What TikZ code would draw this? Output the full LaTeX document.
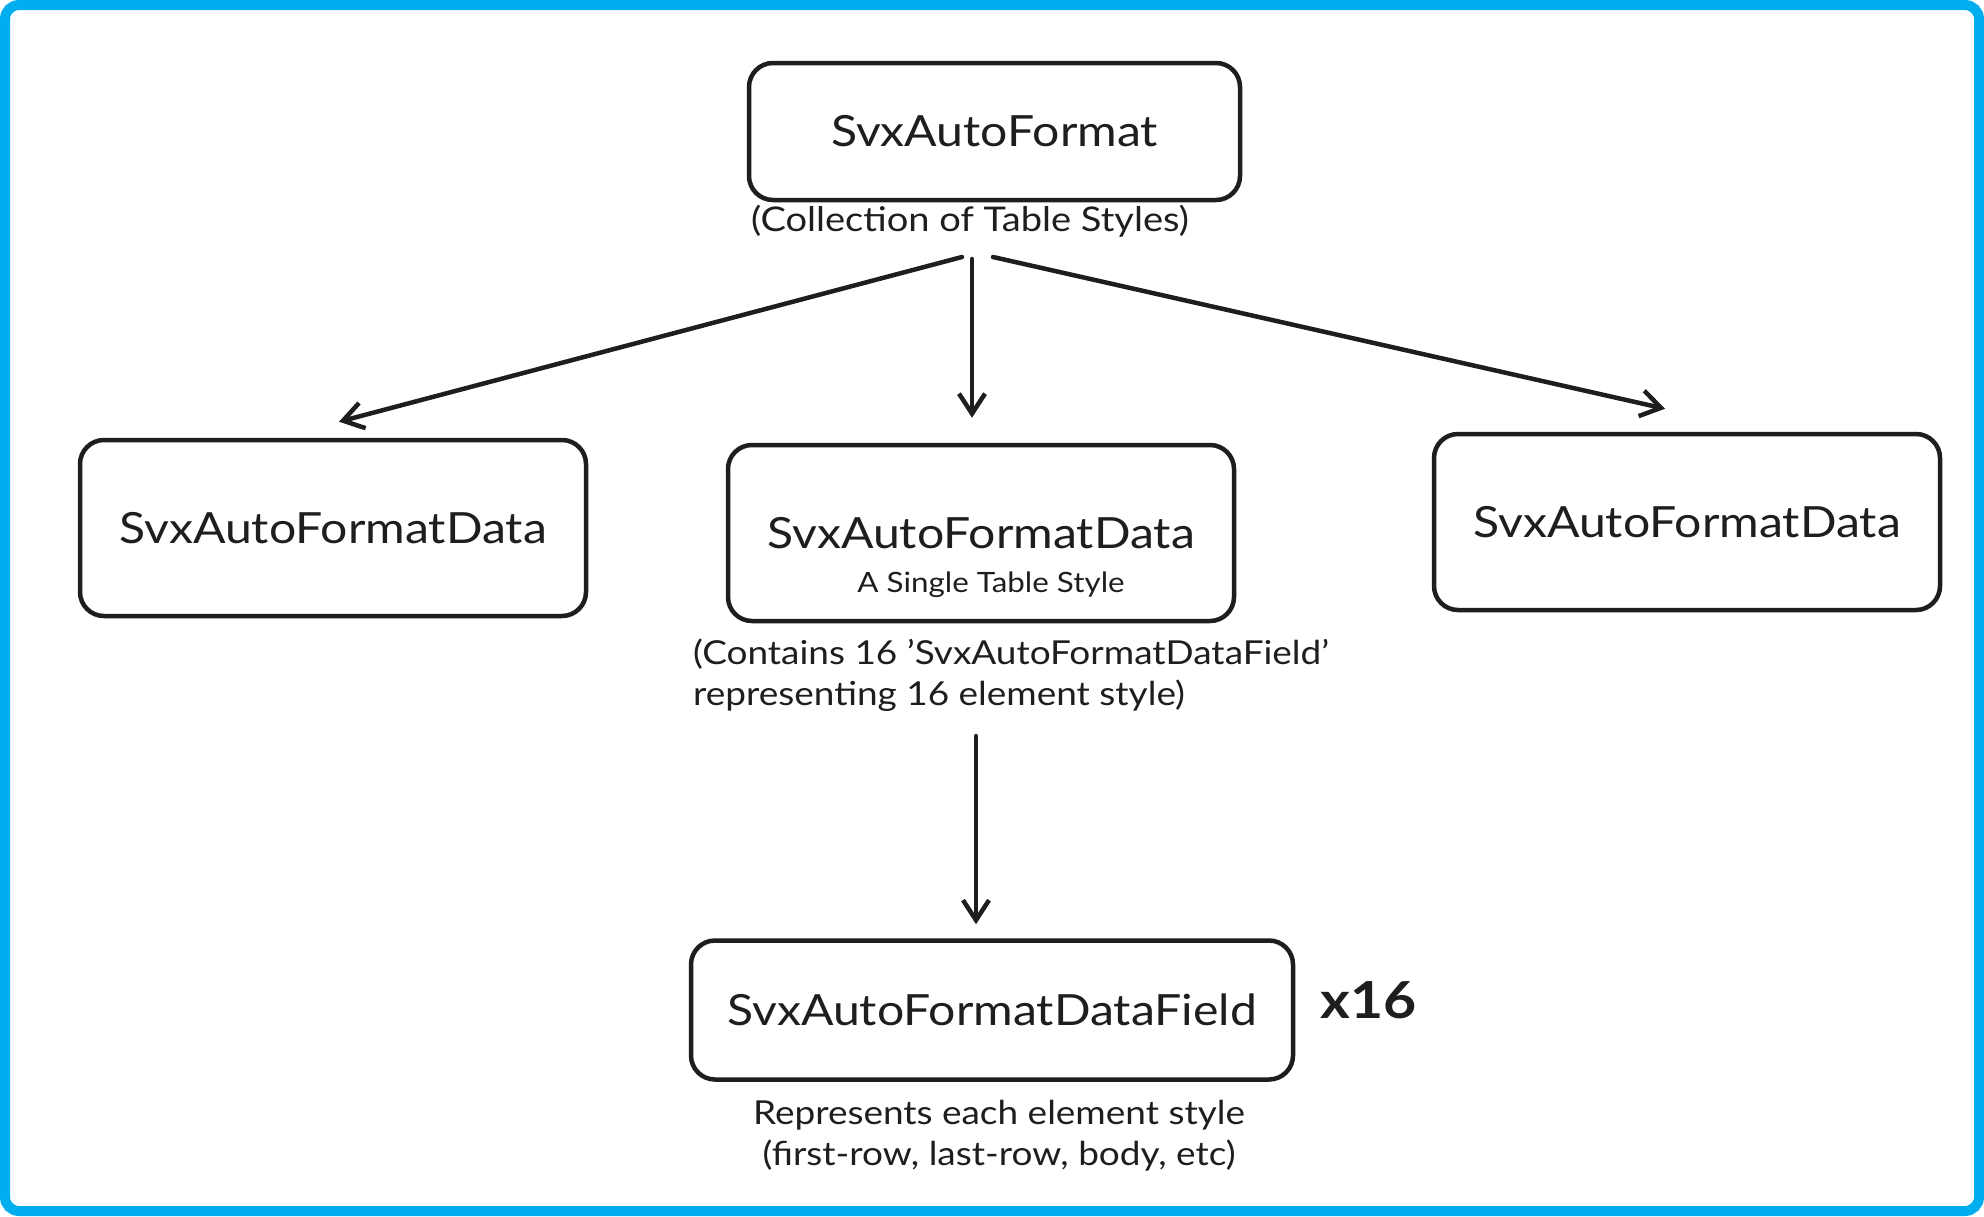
\documentclass[tikz,border=0pt]{standalone}
\usepackage{fontspec}
\setmainfont{Lato}[FakeStretch=1.12]
\usetikzlibrary{arrows.meta}

\definecolor{ink}{HTML}{1E1E1E}
\definecolor{frameblue}{HTML}{00AEEF}

\begin{document}
\begin{tikzpicture}[x=1pt, y=-1pt,
    box/.style={draw=ink, line width=4.5pt, rounded corners=24pt, text=ink,
        font=\fontsize{43}{50}\selectfont},
    note/.style={text=ink, inner sep=0pt, font=\fontsize{33}{41}\selectfont},
    arr/.style={draw=ink, line width=4.5pt, line cap=round,
        -{Straight Barb[length=20pt,width=26pt]}}]

    % 1. Keret
    \useasboundingbox (0,0) rectangle (1984,1216);
    \fill[white] (0,0) rectangle (1984,1216);
    \draw[frameblue, line width=10pt, rounded corners=14pt] (5,5) rectangle (1979,1211);

    % 2. Dobozok
    \node[box, minimum width=491pt, minimum height=137pt] (fmt) at (994.5,131.5) {SvxAutoFormat};
    \node[box, minimum width=506pt, minimum height=176pt] (dataL) at (333,528) {SvxAutoFormatData};
    \node[box, minimum width=506pt, minimum height=176pt] (dataM) at (981,533) {SvxAutoFormatData};
    \node[box, minimum width=506pt, minimum height=176pt] (dataR) at (1687,522) {SvxAutoFormatData};
    \node[box, minimum width=602pt, minimum height=139pt] (field) at (992,1010) {SvxAutoFormatDataField};

    % 3. Feliratok
    \node[note, font=\fontsize{34}{41}\selectfont] (coll) at (970,221) {(Collection of Table Styles)};
    \node[note, font=\fontsize{28}{32}\selectfont] (single) at (991,585) {A Single Table Style};
    \node[note, align=left, anchor=west] (contains) at (693,675.5)
        {(Contains 16 'SvxAutoFormatDataField'\\representing 16 element style)};
    \node[note, align=center] (repr) at (999,1135.5)
        {Represents each element style\\(first-row, last-row, body, etc)};
    \node[note, font=\bfseries\fontsize{51}{60}\selectfont] (times) at (1369,1000) {x16};

    % 4. Nyilak
    \coordinate (forkL) at (962,257);
    \coordinate (forkM) at (972,259);
    \coordinate (forkR) at (993,257);
    \coordinate (drop) at (976,736);
    \draw[arr] (forkL) -- ([xshift=6pt, yshift=16pt]dataL.north);
    \draw[arr] (forkM) -- ([xshift=-9pt, yshift=25pt]dataM.north);
    \draw[arr] (forkR) -- ([xshift=-22pt, yshift=23pt]dataR.north);
    \draw[arr, shorten >=14pt] (drop) -- (drop |- field.north);
\end{tikzpicture}
\end{document}
